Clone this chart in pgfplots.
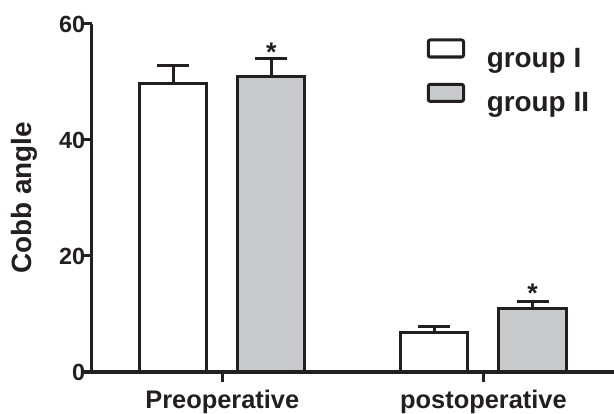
\documentclass[border=0pt]{standalone}
\usepackage{pgfplots}
\pgfplotsset{compat=1.18}
\usepackage{fontspec}
\setmainfont{Liberation Sans}
\definecolor{linec}{RGB}{35,31,32}
\definecolor{barg}{RGB}{200,201,203}
\begin{document}
\begin{tikzpicture}
\useasboundingbox (0,0) rectangle (614bp,414bp);
\begin{axis}[
  at={(91.7bp,42bp)}, anchor=south west,
  scale only axis, width=522.3bp, height=348bp,
  xmin=-0.5, xmax=1.5, ymin=0, ymax=60,
  clip=false,
  axis lines=left,
  axis line style={-, line width=3bp, draw=linec},
  xtick={0,1}, xticklabels={Preoperative,postoperative},
  ytick={0,20,40,60},
  tick align=outside,
  major tick length=10bp,
  tick style={line width=3bp, draw=linec},
  /pgf/number format/assume math mode=true,
  yticklabel style={font=\fontsize{23.5}{23.5}\selectfont\bfseries, text=linec, xshift=7bp},
  xticklabel style={font=\fontsize{25.5}{26}\selectfont\bfseries, text=linec, yshift=-5bp},
  ylabel={Cobb angle},
  ylabel style={font=\fontsize{28}{28}\selectfont\bfseries, text=linec, at={(axis description cs:-0.1287,0.5)}, anchor=center},
  ybar, bar width=0.257,
  legend image code/.code={\draw[#1, line width=3bp, rounded corners=2bp] (1.5bp,1.5bp) rectangle (36.8bp,18.5bp);},
  legend cell align=left,
  legend style={at={(axis cs:0.783,57.5)}, anchor=north west, draw=none, fill=none,
    inner sep=0pt, outer sep=0pt, row sep=14bp,
    font=\fontsize{28}{28}\selectfont\bfseries, text=linec,
    nodes={inner sep=0pt},
    /tikz/every odd column/.append style={column sep=21.7bp}},
]
\addplot[fill=white, draw=linec, line width=3bp, bar shift=-0.188,
  error bars/.cd, y dir=plus, y explicit,
  error bar style={line width=3bp, draw=linec},
  error mark options={rotate=90, line width=3bp, draw=linec, mark size=16bp}]
  table[x=x, y=y, y error=e] {
x y e
0 49.8 3.0
1 6.8 1.0
};
\addlegendentry{group I}
\addplot[fill=barg, draw=linec, line width=3bp, bar shift=0.188,
  error bars/.cd, y dir=plus, y explicit,
  error bar style={line width=3bp, draw=linec},
  error mark options={rotate=90, line width=3bp, draw=linec, mark size=16bp}]
  table[x=x, y=y, y error=e] {
x y e
0 51.0 3.0
1 10.9 1.3
};
\addlegendentry{group II}
\node[font=\fontsize{27}{27}\selectfont\bfseries, text=linec, anchor=base] at (axis cs:0.188,53.6) {*};
\node[font=\fontsize{27}{27}\selectfont\bfseries, text=linec, anchor=base] at (axis cs:1.188,12.0) {*};
\end{axis}
\end{tikzpicture}
\end{document}
